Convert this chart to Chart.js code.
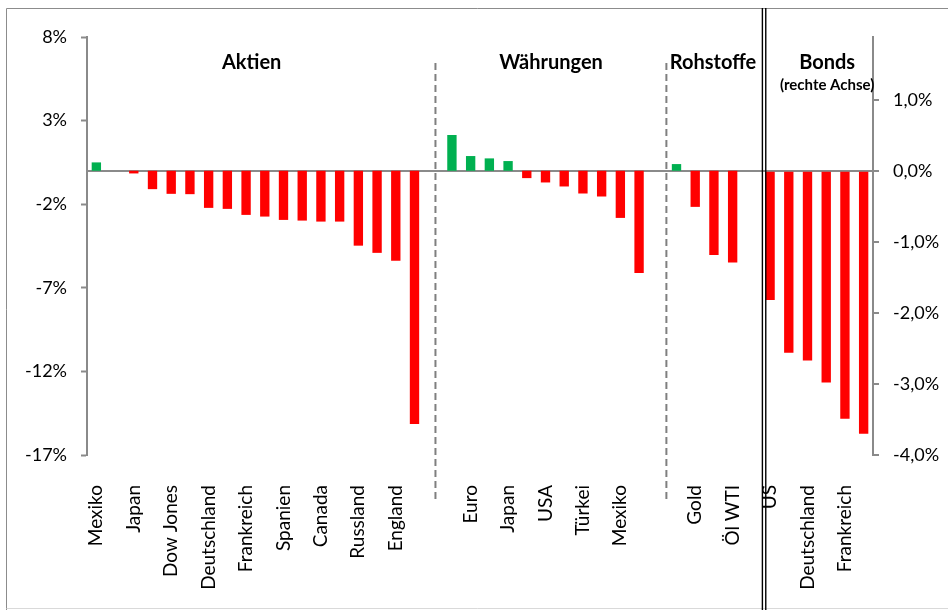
<!DOCTYPE html>
<html>
<head>
<meta charset="utf-8">
<script src="https://cdn.jsdelivr.net/npm/chart.js@4.4.1/dist/chart.umd.min.js"></script>
<style>
  html, body { margin: 0; padding: 0; background: #fff; }
  canvas { display: block; }
</style>
</head>
<body>
<canvas id="perfChart" width="948" height="610"></canvas>
<script>
// Daten je Gruppe (Werte in %)
const aktienLabels = ['Mexiko', '', 'Japan', '', 'Dow Jones', '', 'Deutschland', '', 'Frankreich', '', 'Spanien', '', 'Canada', '', 'Russland', '', 'England', ''];
const aktienValues = [0.50, 0, -0.16, -1.10, -1.38, -1.40, -2.22, -2.28, -2.64, -2.74, -2.94, -2.98, -3.04, -3.04, -4.48, -4.91, -5.38, -15.15];

const waehrungLabels = ['', 'Euro', '', 'Japan', '', 'USA', '', 'Türkei', '', 'Mexiko', ''];
const waehrungValues = [2.14, 0.88, 0.74, 0.58, -0.44, -0.70, -0.94, -1.36, -1.54, -2.82, -6.11];

const rohstoffLabels = ['', 'Gold', '', 'Öl WTI'];
const rohstoffValues = [0.40, -2.16, -5.04, -5.49];

// Bonds laufen auf der rechten Achse
const bondLabels = ['US', '', 'Deutschland', '', 'Frankreich', ''];
const bondValues = [-1.82, -2.56, -2.67, -2.98, -3.49, -3.70];

const leftTicks = [-17, -12, -7, -2, 3, 8];
const rightTicks = [-4, -3, -2, -1, 0, 1];

const GREEN = '#00b050';
const RED = '#ff0000';
const AXIS_GREY = '#8a8a8a';
const FONT = 'Lato, "Open Sans", sans-serif';

// eine leere Kategorie als Trenner zwischen den Gruppen
const nulls = n => new Array(n).fill(null);

const labels = [
  ...aktienLabels, '',
  ...waehrungLabels, '',
  ...rohstoffLabels, '',
  ...bondLabels
];
const leftData = [
  ...aktienValues, null,
  ...waehrungValues, null,
  ...rohstoffValues, null,
  ...nulls(bondValues.length)
];
const rightData = [
  ...nulls(aktienValues.length + 1 + waehrungValues.length + 1 + rohstoffValues.length + 1),
  ...bondValues
];

// rechte Achse so skalieren, dass die Nulllinie mit der linken übereinstimmt
const leftMin = leftTicks[0], leftMax = leftTicks[leftTicks.length - 1];
const rightMin = rightTicks[0];
const rightMax = rightMin * leftMax / leftMin;

const barColor = c => (c.raw != null && c.raw > 0 ? GREEN : RED);

const groupTitles = {
  id: 'groupTitles',
  afterDraw(chart) {
    const { ctx, scales: { x } } = chart;
    const px = v => x.getPixelForValue(v);
    ctx.save();

    // Rahmen
    ctx.lineWidth = 1;
    ctx.strokeStyle = '#8c8c8c';
    ctx.beginPath();
    ctx.moveTo(6.5, 610);
    ctx.lineTo(6.5, 8.5);
    ctx.lineTo(948, 8.5);
    ctx.stroke();
    ctx.strokeStyle = '#d9d9d9';
    ctx.beginPath();
    ctx.moveTo(6.5, 608.5);
    ctx.lineTo(948, 608.5);
    ctx.stroke();

    // gestrichelte Trennlinien
    ctx.strokeStyle = '#7f7f7f';
    ctx.lineWidth = 2;
    ctx.setLineDash([7, 4]);
    [18.12, 30.46].forEach(v => {
      ctx.beginPath();
      ctx.moveTo(px(v), 63);
      ctx.lineTo(px(v), 500);
      ctx.stroke();
    });

    // Doppellinie vor den Bonds
    ctx.setLineDash([]);
    ctx.strokeStyle = '#000';
    ctx.lineWidth = 1.4;
    [35.59, 35.77].forEach(v => {
      ctx.beginPath();
      ctx.moveTo(px(v), 8);
      ctx.lineTo(px(v), 610);
      ctx.stroke();
    });

    // Gruppentitel
    ctx.fillStyle = '#000';
    ctx.textAlign = 'center';
    ctx.textBaseline = 'middle';
    ctx.font = 'bold 20px ' + FONT;
    ctx.fillText('Aktien', px(8.3), 63);
    ctx.fillText('Währungen', px(24.3), 63);
    ctx.fillText('Rohstoffe', px(32.95), 63);
    ctx.fillText('Bonds', px(39.05), 63);
    ctx.font = 'bold 15px ' + FONT;
    ctx.fillText('(rechte Achse)', px(39.05), 85);
    ctx.restore();
  }
};

new Chart(document.getElementById('perfChart'), {
  type: 'bar',
  data: {
    labels: labels,
    datasets: [
      {
        data: leftData,
        yAxisID: 'y',
        grouped: false,
        backgroundColor: barColor,
        barPercentage: 0.5,
        categoryPercentage: 1.0
      },
      {
        data: rightData,
        yAxisID: 'y1',
        grouped: false,
        backgroundColor: barColor,
        barPercentage: 0.5,
        categoryPercentage: 1.0
      }
    ]
  },
  options: {
    responsive: false,
    animation: false,
    devicePixelRatio: 1,
    layout: { padding: { top: 37, left: 0, right: 0, bottom: 0 } },
    plugins: {
      legend: { display: false },
      tooltip: { enabled: false }
    },
    scales: {
      x: {
        grid: { display: false, drawTicks: false },
        border: { display: false },
        ticks: {
          autoSkip: false,
          maxRotation: 90,
          minRotation: 90,
          padding: 30,
          color: '#000',
          font: { family: FONT, size: 19 }
        },
        afterFit(axis) { axis.height = 155; }
      },
      y: {
        position: 'left',
        min: leftMin,
        max: leftMax,
        afterBuildTicks(axis) { axis.ticks = leftTicks.map(v => ({ value: v })); },
        grid: { drawOnChartArea: false, tickLength: 6, tickColor: AXIS_GREY, tickWidth: 2 },
        border: { display: true, color: AXIS_GREY, width: 2 },
        ticks: {
          padding: 14,
          color: '#000',
          font: { family: FONT, size: 18 },
          callback: v => v + '%'
        },
        afterFit(axis) { axis.width = 87; }
      },
      y1: {
        position: 'right',
        min: rightMin,
        max: rightMax,
        afterBuildTicks(axis) { axis.ticks = rightTicks.map(v => ({ value: v })); },
        grid: {
          drawOnChartArea: true,
          color: c => (c.tick && c.tick.value === 0 ? AXIS_GREY : 'rgba(0,0,0,0)'),
          lineWidth: 2,
          tickLength: 6,
          tickColor: AXIS_GREY,
          tickWidth: 2
        },
        border: { display: true, color: AXIS_GREY, width: 2 },
        ticks: {
          padding: 14,
          color: '#000',
          font: { family: FONT, size: 18 },
          callback: v => v.toFixed(1).replace('.', ',') + '%'
        },
        afterFit(axis) { axis.width = 75; }
      }
    }
  },
  plugins: [groupTitles]
});
</script>
</body>
</html>
